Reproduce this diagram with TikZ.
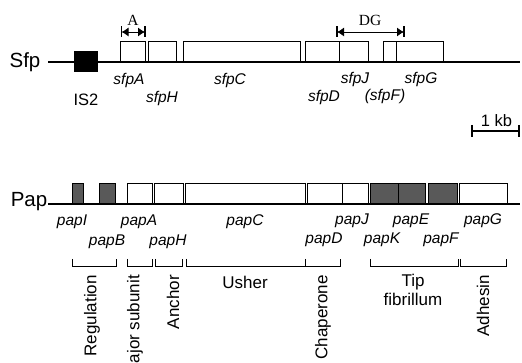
\documentclass[tikz,border=0pt]{standalone}
\usepackage{fontspec}
\setmainfont{Liberation Serif}
\newfontfamily\arialf{Liberation Sans}
\usetikzlibrary{arrows.meta}
\tikzset{
  track/.style={line width=1.6pt},
  genebox/.style={draw, line width=1pt, fill=white},
  graybox/.style={draw, line width=1pt, fill=black!65},
  blackbox/.style={draw, line width=1pt, fill=black},
  tracklabel/.style={font=\arialf\fontsize{20.5}{22}\selectfont, inner sep=0pt},
  genelabel/.style={font=\arialf\itshape\fontsize{15.5}{17}\selectfont, inner sep=0pt},
  plainlabel/.style={font=\arialf\fontsize{16.5}{18}\selectfont, inner sep=0pt},
  funclabel/.style={font=\arialf\fontsize{17}{19}\selectfont, inner sep=0pt},
  vlabel/.style={funclabel, rotate=90, anchor=east},
  serlabel/.style={font=\fontsize{15.5}{17}\selectfont, inner sep=0pt},
  bracket/.style={line width=0.9pt},
  dimarrow/.style={line width=0.9pt, {Latex[length=7pt,width=9pt]}-{Latex[length=7pt,width=9pt]}},
  endbar/.style={line width=1.7pt},
}

\begin{document}

\begin{tikzpicture}[x=1pt,y=-1pt]
\useasboundingbox (0,0) rectangle (522,363);

% ---------------- Sfp ----------------
\node[tracklabel] (sfp) at (25,62) {Sfp};
\coordinate (s0) at (48,62);
\coordinate (s1) at (520,62);
\draw[track] (s0) -- (s1);

\draw[blackbox] (74,52) rectangle (97,72);
\draw[genebox] (120.5,42) rectangle (145,62);
\draw[genebox] (148,42) rectangle (176.5,62);
\draw[genebox] (183,42) rectangle (300.5,62);
\draw[genebox] (305,42) rectangle (339,62);
\draw[genebox] (339,42) rectangle (368,62);
\draw[genebox] (383,42) rectangle (396,62);
\draw[genebox] (396,42) rectangle (443,62);
\draw[track] (s0) -- (s1);

\node[plainlabel] (is2) at (86,100) {IS2};
\node[genelabel] (sfpA) at (129,80) {sfpA};
\node[genelabel] (sfpH) at (162,98) {sfpH};
\node[genelabel] (sfpC) at (230,80) {sfpC};
\node[genelabel] (sfpD) at (324,97) {sfpD};
\node[genelabel] (sfpJ) at (355,79) {sfpJ};
\node[genelabel] (sfpF) at (385,96) {(sfpF)};
\node[genelabel] (sfpG) at (421,79) {sfpG};

% A arrow
\coordinate (a0) at (121.5,32);
\coordinate (a1) at (145,32);
\draw[endbar] (121.5,26.5) -- (121.5,37.5);
\draw[endbar] (145,26.5) -- (145,37.5);
\draw[dimarrow] (a0) -- (a1);
\node[serlabel] (lblA) at (133,20) {A};

% DG arrow
\coordinate (d0) at (337,32);
\coordinate (d1) at (404,32);
\draw[endbar] (337,26.5) -- (337,37.5);
\draw[endbar] (404,26.5) -- (404,37.5);
\draw[dimarrow] (d0) -- (d1);
\node[serlabel] (lblDG) at (370,20) {DG};

% scale bar
\coordinate (k0) at (472,131);
\coordinate (k1) at (519,131);
\draw[line width=1.3pt] (k0) -- (k1);
\draw[endbar] (472,125) -- (472,137);
\draw[endbar] (519,125) -- (519,137);
\node[plainlabel] (kb) at (496.5,121) {1 kb};

% ---------------- Pap ----------------
\node[tracklabel] (pap) at (29,202) {Pap};
\coordinate (p0) at (48,204);
\coordinate (p1) at (520,204);
\draw[track] (p0) -- (p1);

\draw[graybox] (72,183.5) rectangle (83,204);
\draw[graybox] (99,183.5) rectangle (115,204);
\draw[genebox] (127,183.5) rectangle (152,204);
\draw[genebox] (154,183.5) rectangle (183,204);
\draw[genebox] (185,183.5) rectangle (305,204);
\draw[genebox] (307,183.5) rectangle (342,204);
\draw[genebox] (342,183.5) rectangle (368,204);
\draw[graybox] (370,183.5) rectangle (398,204);
\draw[graybox] (398,183.5) rectangle (425,204);
\draw[graybox] (428,183.5) rectangle (457,204);
\draw[genebox] (459,183.5) rectangle (507,204);
\draw[track] (p0) -- (p1);

\node[genelabel] (papI) at (72,222) {papI};
\node[genelabel] (papA) at (139,222) {papA};
\node[genelabel] (papC) at (245,222) {papC};
\node[genelabel] (papJ) at (352,221) {papJ};
\node[genelabel] (papE) at (411,221) {papE};
\node[genelabel] (papG) at (483,221) {papG};
\node[genelabel] (papB) at (107,242) {papB};
\node[genelabel] (papH) at (168,242) {papH};
\node[genelabel] (papD) at (324,240) {papD};
\node[genelabel] (papK) at (382,240) {papK};
\node[genelabel] (papF) at (441,240) {papF};

% brackets
\draw[bracket] (72.5,259) |- (116,266) -- (116,259);
\draw[bracket] (127,259) |- (152.5,266) -- (152.5,259);
\draw[bracket] (155,259) |- (182.5,266) -- (182.5,259);
\draw[bracket] (186,259) |- (305,266) -- (305,259);
\draw[bracket] (305.5,259) |- (340.5,266) -- (340.5,259);
\draw[bracket] (370,259) |- (458,266) -- (458,259);
\draw[bracket] (460,259) |- (506.5,266) -- (506.5,259);

\node[vlabel] (reg) at (92,275) {Regulation};
\node[vlabel] (maj) at (135,275) {Major subunit};
\node[vlabel] (anc) at (173,275) {Anchor};
\node[funclabel] (ush) at (245,282) {Usher};
\node[vlabel] (cha) at (323,275) {Chaperone};
\node[funclabel, align=center] (tip) at (413,290) {Tip\\fibrillum};
\node[vlabel] (adh) at (483,275) {Adhesin};
\end{tikzpicture}

\end{document}
